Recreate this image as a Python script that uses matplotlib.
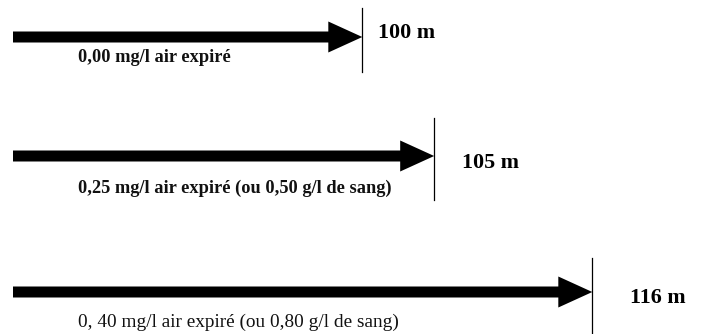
import matplotlib
matplotlib.use('Agg')
import matplotlib.pyplot as plt

# distances d'arrêt (m) selon le taux d'alcool
distances = [100, 105, 116]
taux_labels = [
    '0,00 mg/l air expiré',
    '0,25 mg/l air expiré (ou 0,50 g/l de sang)',
    '0, 40 mg/l air expiré (ou 0,80 g/l de sang)',
]
dist_labels = ['%d m' % d for d in distances]

# mise en page (lignes en pixels, du haut vers le bas)
rows = [37, 156, 292]
label_rows = [57, 188, 322]
mark_spans = [(8, 72), (118, 200), (258, 334)]
dist_rows = [33, 163, 298]
dist_offsets = [16, 28, 38]  # écart en px entre le trait et le texte
label_weights = ['bold', 'bold', 'normal']
label_sizes = [13.2, 13.2, 13.9]

x_start = 75.7
px_per_m = 14.375

fig = plt.figure(figsize=(7.04, 3.34), dpi=100)
ax = fig.add_axes([0, 0, 1, 1])
ax.set_xlim(x_start - 13 / px_per_m, x_start + (704 - 13) / px_per_m)
ax.set_ylim(334, 0)
ax.axis('off')

for d, lab, dl, y, yl, span, yd, off, w, fs in zip(distances, taux_labels, dist_labels,
                                                   rows, label_rows, mark_spans, dist_rows,
                                                   dist_offsets, label_weights, label_sizes):
    ax.arrow(x_start, y, d - x_start, 0, width=11, head_width=31,
             head_length=34 / px_per_m, length_includes_head=True,
             color='black', lw=0)
    ax.plot([d, d], span, color='black', lw=0.9)
    ax.text(x_start + 65 / px_per_m, yl, lab, fontsize=fs, va='center',
            ha='left', family='Liberation Serif', weight=w, color='#111111')
    ax.text(d + off / px_per_m, yd, dl, fontsize=15.8, va='center',
            ha='left', family='Liberation Serif', weight='bold')

plt.savefig('out.png', dpi=100)
plt.close()
